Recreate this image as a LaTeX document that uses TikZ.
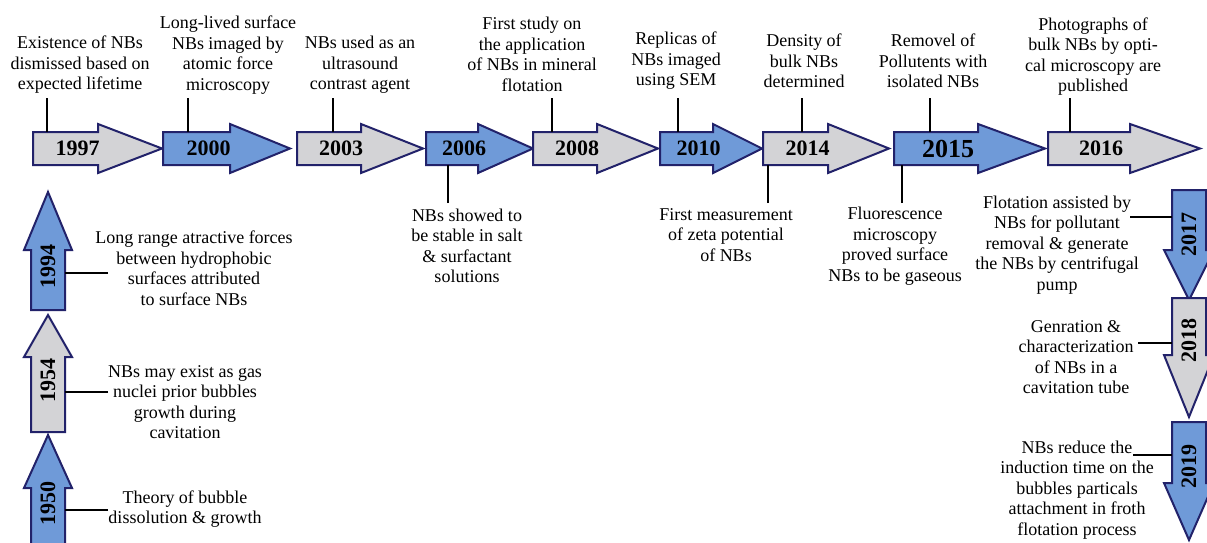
\documentclass[tikz,border=0pt]{standalone}
\usepackage{fontspec,graphicx}
\setmainfont{Liberation Serif}
\definecolor{blau}{HTML}{6F9AD8}
\definecolor{grau}{HTML}{D3D3D6}
\definecolor{rand}{HTML}{22226A}
\newcommand{\notizfont}{\fontsize{18}{20.5}\selectfont}
\newcommand{\jahrfont}{\fontsize{22}{24}\selectfont\bfseries}
\tikzset{pfeilrand/.style={draw=rand,line width=2pt,line join=miter},
  schaft/.style={inner sep=0,outer sep=0},
  jahrtext/.style={font=\jahrfont,text=black,inner sep=0},
  notiz/.style={align=center,font=\notizfont,inner sep=0},
  leiter/.style={black,line width=1.4pt}}
\newcommand{\pfeilrechts}[6]{%
  \draw[pfeilrand,fill=#2] (#3,132) -- (#4,132) -- (#4,124) -- (#5,148.5)
    -- (#4,173) -- (#4,165) -- (#3,165) -- cycle;
  \node[schaft,minimum width={#4-#3},minimum height=33,
    label={[jahrtext,xshift=12pt]center:#6}] (#1) at ({(#3+#4)/2},148.5) {};}
\newcommand{\pfeilhoch}[6]{%
  \draw[pfeilrand,fill=#2] (31,#3) -- (31,#4) -- (24,#4) -- (48,#5)
    -- (72,#4) -- (65,#4) -- (65,#3) -- cycle;
  \node[schaft,minimum width=34,minimum height={#3-#4},
    label={[jahrtext,yshift=14pt]center:\rotatebox{90}{#6}}] (#1) at (48,{(#3+#4)/2}) {};}
\newcommand{\pfeilrunter}[6]{%
  \draw[pfeilrand,fill=#2] (1172,#3) -- (1172,#4) -- (1164,#4) -- (1189,#5)
    -- (1214,#4) -- (1206,#4) -- (1206,#3) -- cycle;
  \node[schaft,minimum width=34,minimum height={#4-#3},
    label={[jahrtext,yshift=-14pt]center:\rotatebox{90}{#6}}] (#1) at (1189,{(#3+#4)/2}) {};}

\begin{document}
\begin{tikzpicture}[x=1pt,y=-1pt]
\useasboundingbox (0,0) rectangle (1207,542);
\fill[white] (0,0) rectangle (1207,542);
\pfeilrechts{j1997}{grau}{33}{98}{162}{1997}
\pfeilrechts{j2000}{blau}{163}{230}{290}{2000}
\pfeilrechts{j2003}{grau}{297}{361}{423}{2003}
\pfeilrechts{j2006}{blau}{426}{478}{533}{2006}
\pfeilrechts{j2008}{grau}{533}{597}{658}{2008}
\pfeilrechts{j2010}{blau}{660}{713}{762}{2010}
\pfeilrechts{j2014}{grau}{763}{828}{889}{2014}
\pfeilrechts{j2015}{blau}{894}{978}{1045}{\fontsize{26}{28}\selectfont 2015}
\pfeilrechts{j2016}{grau}{1048}{1130}{1200}{2016}
\pfeilhoch{j1994}{blau}{310}{250}{192}{1994}
\pfeilhoch{j1954}{grau}{432}{357}{315}{1954}
\pfeilhoch{j1950}{blau}{546}{488}{435}{1950}
\pfeilrunter{j2017}{blau}{190}{250}{300}{2017}
\pfeilrunter{j2018}{grau}{298}{355}{417}{2018}
\pfeilrunter{j2019}{blau}{422}{483}{540}{2019}

\node[notiz] (t1997) at (80,65) {Existence of NBs\\dismissed based on\\expected lifetime};
\node[notiz] (t2000) at (228,55) {Long-lived surface\\NBs imaged by\\atomic force\\microscopy};
\node[notiz] (t2003) at (360,65) {NBs used as an\\ultrasound\\contrast agent};
\node[notiz] (t2008) at (532,54.5) {First study on\\the application\\of NBs in mineral\\flotation};
\node[notiz] (t2010) at (676,61) {Replicas of\\NBs imaged\\using SEM};
\node[notiz] (t2014) at (804,61) {Density of\\bulk NBs\\determined};
\node[notiz] (t2015) at (933,61) {Removel of\\Pollutents with\\isolated NBs};
\node[notiz] (t2016) at (1093,56.5) {Photographs of\\bulk NBs by opti-\\cal microscopy are\\published};
\node[notiz] (t2006) at (467,246) {NBs showed to\\be stable in salt\\\& surfactant\\solutions};
\node[notiz] (u2014) at (726,235) {First measurement\\of zeta potential\\of NBs};
\node[notiz] (u2015) at (895,246) {Fluorescence\\microscopy\\proved surface\\NBs to be gaseous};
\node[notiz] (t1994) at (194,268) {Long range atractive forces\\between hydrophobic\\surfaces attributed\\to surface NBs};
\node[notiz] (t1954) at (185,402) {NBs may exist as gas\\nuclei prior bubbles\\growth during\\cavitation};
\node[notiz] (t1950) at (185,509) {Theory of bubble\\dissolution \& growth};
\node[notiz] (t2017) at (1057,245) {Flotation assisted by\\NBs for pollutant\\removal \& generate\\the NBs by centrifugal\\pump};
\node[notiz] (t2018) at (1076,357) {Genration \&\\characterization\\of NBs in a\\cavitation tube};
\node[notiz] (t2019) at (1077,490) {NBs reduce the\\induction time on the\\bubbles particals\\attachment in froth\\flotation process};

\coordinate (f1997) at (47,98);
\coordinate (f2000) at (188,98);
\coordinate (f2003) at (333,98);
\coordinate (f2008) at (552,98);
\coordinate (f2010) at (678,98);
\coordinate (f2014) at (802,98);
\coordinate (f2015) at (930,98);
\coordinate (f2016) at (1070,98);
\coordinate (g2006) at (448,203);
\coordinate (g2014) at (768,203);
\coordinate (g2015) at (902,203);
\coordinate (f1994) at (108,273);
\coordinate (f1954) at (108,392);
\coordinate (f1950) at (108,510);
\coordinate (f2017) at (1130,217);
\coordinate (f2018) at (1138,343);
\coordinate (f2019) at (1133,455);
\draw[leiter] (f1997) -- (f1997 |- j1997.north) (f2000) -- (f2000 |- j2000.north)
  (f2003) -- (f2003 |- j2003.north) (f2008) -- (f2008 |- j2008.north)
  (f2010) -- (f2010 |- j2010.north) (f2014) -- (f2014 |- j2014.north)
  (f2015) -- (f2015 |- j2015.north) (f2016) -- (f2016 |- j2016.north);
\draw[leiter] (g2006) -- (g2006 |- j2006.south) (g2014) -- (g2014 |- j2014.south)
  (g2015) -- (g2015 |- j2015.south);
\draw[leiter] (f1994) -- (f1994 -| j1994.east) (f1954) -- (f1954 -| j1954.east)
  (f1950) -- (f1950 -| j1950.east);
\draw[leiter] (f2017) -- (f2017 -| j2017.west) (f2018) -- (f2018 -| j2018.west)
  (f2019) -- (f2019 -| j2019.west);
\end{tikzpicture}
\end{document}
